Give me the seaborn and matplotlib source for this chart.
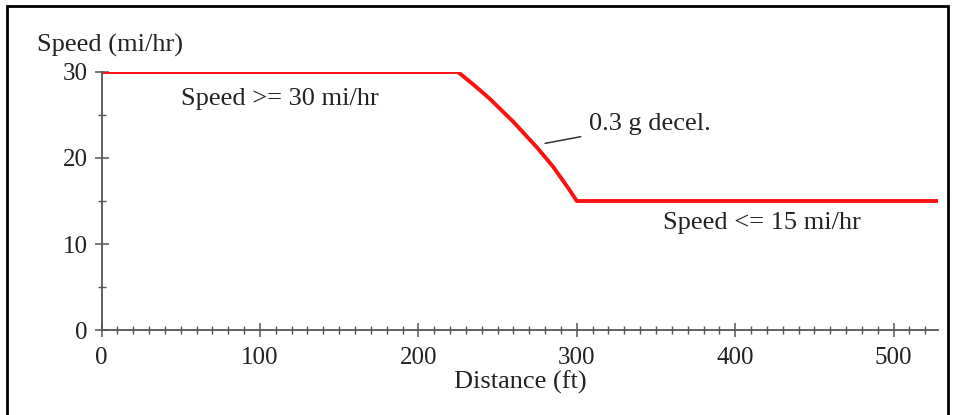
import matplotlib
matplotlib.use("Agg")
import matplotlib.pyplot as plt
import seaborn as sns
import pandas as pd
from matplotlib.patches import Rectangle
from matplotlib.ticker import MultipleLocator

# Data
distance_ft = [0, 225, 230, 235, 240, 245, 250, 255, 260, 265, 270, 275, 280, 285, 290, 295, 300, 528]
speed_mph = [30, 30, 29.25, 28.5, 27.7, 26.9, 26.0, 25.1, 24.2, 23.2, 22.2, 21.2, 20.1, 19.0, 17.7, 16.4, 15, 15]

x_ticks = [0, 100, 200, 300, 400, 500]
y_ticks = [0, 10, 20, 30]

sns.set_theme(style="white")
plt.rcParams['font.family'] = ['Liberation Serif', 'DejaVu Serif']

fig = plt.figure(figsize=(9.59, 4.15), dpi=100)
ax = fig.add_axes([101.5 / 959, 1 - 330 / 415, (938 - 101.5) / 959, (330 - 72) / 415])

df = pd.DataFrame({"Distance": distance_ft, "Speed": speed_mph})
sns.lineplot(data=df, x="Distance", y="Speed", ax=ax, color="#ff1010", linewidth=2.8, sort=False)

ax.set_xlim(0, 528)
ax.set_ylim(0, 30)
ax.set_xticks(x_ticks)
ax.set_yticks(y_ticks)
ax.xaxis.set_minor_locator(MultipleLocator(10))
ax.yaxis.set_minor_locator(MultipleLocator(5))

for s in ["top", "right"]:
    ax.spines[s].set_visible(False)
for s in ["left", "bottom"]:
    ax.spines[s].set_color("#555555")
    ax.spines[s].set_linewidth(1.3)

ax.tick_params(which="major", direction="inout", length=10, width=1.1, color="#555555",
               labelsize=18, labelcolor="#222222", pad=5, left=True, bottom=True)
ax.tick_params(axis="x", which="major", pad=7)
ax.tick_params(which="minor", direction="inout", length=6, width=1.0, color="#555555",
               left=True, bottom=True)
ax.set_xlabel("")
ax.set_ylabel("")
ax.grid(False)

txt = dict(fontsize=19, color="#222222")
fig.text(37 / 959, 1 - 45 / 415, "Speed (mi/hr)", ha="left", va="center", **txt)
fig.text(520 / 959, 1 - 382 / 415, "Distance (ft)", ha="center", va="center", **txt)
ax.text(112.6, 26.85, "Speed >= 30 mi/hr", ha="center", va="center", **txt)
ax.text(417, 12.45, "Speed <= 15 mi/hr", ha="center", va="center", **txt)
ax.annotate("0.3 g decel.", xy=(280, 21.7), xytext=(308, 24.0),
            ha="left", va="center",
            arrowprops=dict(arrowstyle="-", color="#333333", lw=1.1, shrinkA=4, shrinkB=0),
            **txt)

fig.patches.append(Rectangle((7 / 959, -0.05), (948 - 7) / 959, 1.05 - 6 / 415,
                             transform=fig.transFigure, fill=False,
                             edgecolor="black", linewidth=2.0))

fig.savefig("out.png", dpi=100, facecolor="white")
